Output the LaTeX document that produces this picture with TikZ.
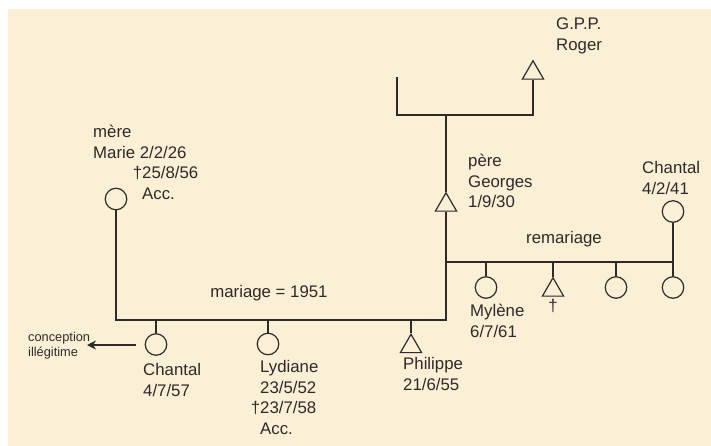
\documentclass[tikz,border=0pt]{standalone}
\usepackage{fontspec}
\setmainfont{Liberation Sans}
\usetikzlibrary{shapes.geometric,arrows.meta}
\definecolor{cream}{HTML}{FBEFD6}
\definecolor{ink}{HTML}{2E2A28}
\begin{document}
\begin{tikzpicture}[x=1pt,y=-1pt,
  fem/.style={circle, draw=ink, line width=1.2pt, minimum size=21.5pt, inner sep=0pt},
  masc/.style={regular polygon, regular polygon sides=3, draw=ink, line width=1.2pt, minimum size=24.5pt, inner sep=0pt},
  link/.style={draw=ink, line width=1.2pt},
  lbl/.style={anchor=north west, inner sep=0pt, align=left, text=ink, font=\fontsize{16.8}{20.7}\selectfont},
  clbl/.style={anchor=base, inner sep=0pt, text=ink, font=\fontsize{16.8}{20.7}\selectfont},
  smalllbl/.style={anchor=north west, inner sep=0pt, align=left, text=ink, font=\fontsize{12.8}{15}\selectfont}]
\useasboundingbox (0,0) rectangle (711,446);
\fill[white] (0,0) rectangle (711,446);
\fill[cream] (8,9) rectangle (711,446);

% symbols
\node[fem] (marie) at (116,199) {};
\node[masc] (pere) at (446,205) {};
\node[masc] (roger) at (533,73) {};
\node[fem] (chantalB) at (673,211.5) {};
\node[fem] (mylene) at (486,287.5) {};
\node[masc] (fils) at (553,290) {};
\node[fem] (fille3) at (616,287.5) {};
\node[fem] (fille4) at (673,287.5) {};
\node[fem] (chantalA) at (156,344.5) {};
\node[fem] (lydiane) at (268,344) {};
\node[masc] (philippe) at (411,346.5) {};

% junction points
\coordinate (mainR) at (446,320);
\coordinate (remL) at (446,262);
\coordinate (remR) at (673,262);
\coordinate (brTop) at (397,77);
\coordinate (brL) at (397,115);
\coordinate (brR) at (533,115);
\coordinate (brM) at (446,115);
\coordinate (arrS) at (136,345);
\coordinate (arrE) at (87,345);

% connectors
\draw[link] (marie.south) |- (mainR) -- (pere.south);
\draw[link] (pere.north) -- (brM);
\draw[link] (brTop) -- (brL) -- (brR) -- (roger.south);
\draw[link] (chantalB.south) -- (remR) -- (remL);
\draw[link] (remR) -- (fille4.north);
\foreach \n in {mylene,fils,fille3} \draw[link] (\n.north) -- (\n.north |- remL);
\foreach \n in {chantalA,lydiane,philippe} \draw[link] (\n.north) -- (\n.north |- mainR);
\draw[link, -{Stealth[length=9pt,width=9pt]}] (arrS) -- (arrE);

% labels
\node[lbl] (gppL) at (556,18) {G.P.P.\\Roger};
\node[lbl] (pereL) at (468,154) {père\\Georges\\1/9/30};
\node[lbl] (chantalBL) at (642,161) {Chantal\\4/2/41};
\node[clbl] (remL2) at (564,243) {remariage};
\node[lbl] (myleneL) at (470,304) {Mylène\\6/7/61};
\node[clbl] (filsL) at (553,311) {†};
\node[clbl] (mariageL) at (269,297) {mariage = 1951};
\node[lbl] (chantalAL) at (143,363) {Chantal\\4/7/57};
\node[lbl] (lydianeL) at (260,360) {Lydiane\\23/5/52\\\llap{†}23/7/58\\Acc.};
\node[lbl] (philippeL) at (403,357) {Philippe\\21/6/55};
\node[lbl] (mereL) at (93,125) {mère\\Marie 2/2/26};
\node[lbl] (marieD) at (142,166) {\llap{†}25/8/56\\Acc.};
\node[smalllbl] (conceptL) at (28,332) {conception\\illégitime};
\end{tikzpicture}
\end{document}
